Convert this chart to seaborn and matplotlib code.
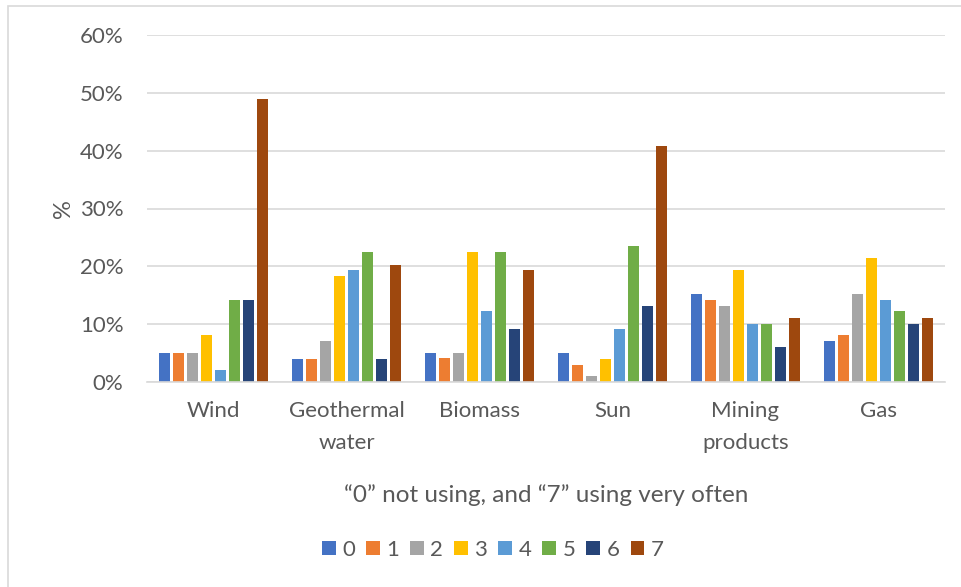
import matplotlib
matplotlib.use("Agg")
import matplotlib.pyplot as plt
from matplotlib.patches import Rectangle
import seaborn as sns
import pandas as pd

# Energy sources and usage scores (0 = not using, 7 = using very often)
categories = ["Wind", "Geothermal\nwater", "Biomass", "Sun", "Mining\nproducts", "Gas"]
levels = ["0", "1", "2", "3", "4", "5", "6", "7"]

# Share of respondents (%) per level, one list per energy source
wind = [5.0, 5.0, 5.0, 8.1, 2.0, 14.2, 14.2, 48.9]
geothermal = [4.0, 4.0, 7.1, 18.3, 19.4, 22.4, 4.0, 20.3]
biomass = [5.1, 4.1, 5.1, 22.4, 12.2, 22.4, 9.1, 19.4]
sun = [5.0, 3.0, 1.0, 4.0, 9.1, 23.5, 13.2, 40.8]
mining = [15.3, 14.2, 13.2, 19.3, 10.1, 10.1, 6.1, 11.1]
gas = [7.1, 8.1, 15.3, 21.4, 14.2, 12.2, 10.1, 11.1]

yticks = [0, 10, 20, 30, 40, 50, 60]
ytick_labels = ["0%", "10%", "20%", "30%", "40%", "50%", "60%"]

palette = ["#4472C4", "#ED7D31", "#A5A5A5", "#FFC000",
           "#5B9BD5", "#70AD47", "#264478", "#9E480E"]

series = [wind, geothermal, biomass, sun, mining, gas]
rows = []
for cat, vals in zip(categories, series):
    for lev, v in zip(levels, vals):
        rows.append({"source": cat, "level": lev, "pct": v})
df = pd.DataFrame(rows)

sns.set_theme(style="white")
plt.rcParams["font.family"] = ["Lato", "DejaVu Sans"]
text_color = "#595959"
grid_color = "#D9D9D9"

fig = plt.figure(figsize=(9.61, 5.87), dpi=100)
fig.patch.set_facecolor("white")
# Chart area frame
fig.add_artist(Rectangle((8 / 961, -0.05), 1.2, 1 - 6 / 587 + 0.05,
                         transform=fig.transFigure, fill=False,
                         edgecolor=grid_color, linewidth=1.2))

ax = fig.add_axes([147 / 961, 1 - 382 / 587, (945 - 147) / 961, (382 - 35) / 587])

sns.barplot(data=df, x="source", y="pct", hue="level", order=categories,
            hue_order=levels, palette=palette, width=0.84, gap=0.2,
            saturation=1, linewidth=0, ax=ax, legend=True)

ax.set_ylim(0, 60)
ax.set_xlim(-0.5, len(categories) - 0.5)
ax.set_yticks(yticks)
ax.set_yticklabels(ytick_labels)
ax.yaxis.grid(True, color=grid_color, linewidth=1.2)
ax.set_axisbelow(True)
for side in ["top", "right", "left"]:
    ax.spines[side].set_visible(False)
ax.spines["bottom"].set_color(grid_color)
ax.spines["bottom"].set_linewidth(1.2)
ax.tick_params(axis="y", length=0, pad=17, labelsize=16, labelcolor=text_color)
ax.tick_params(axis="x", length=0, pad=14, labelsize=16, labelcolor=text_color)
for lbl in ax.get_xticklabels():
    lbl.set_linespacing(1.75)

ax.set_xlabel("\u201c0\u201d not using, and \u201c7\u201d using very often",
              fontsize=17.5, color=text_color, labelpad=22)
ax.set_ylabel("%", fontsize=17, color=text_color, labelpad=4)

handles, labels = ax.get_legend_handles_labels()
ax.legend_.remove()
fig.legend(handles, labels, loc="center", bbox_to_anchor=(493 / 961, 1 - 550 / 587),
           ncol=8, frameon=False, fontsize=16, labelcolor=text_color,
           handlelength=0.6, handleheight=0.6, handletextpad=0.3,
           columnspacing=0.5)

fig.savefig("out.png", dpi=100, facecolor="white")
